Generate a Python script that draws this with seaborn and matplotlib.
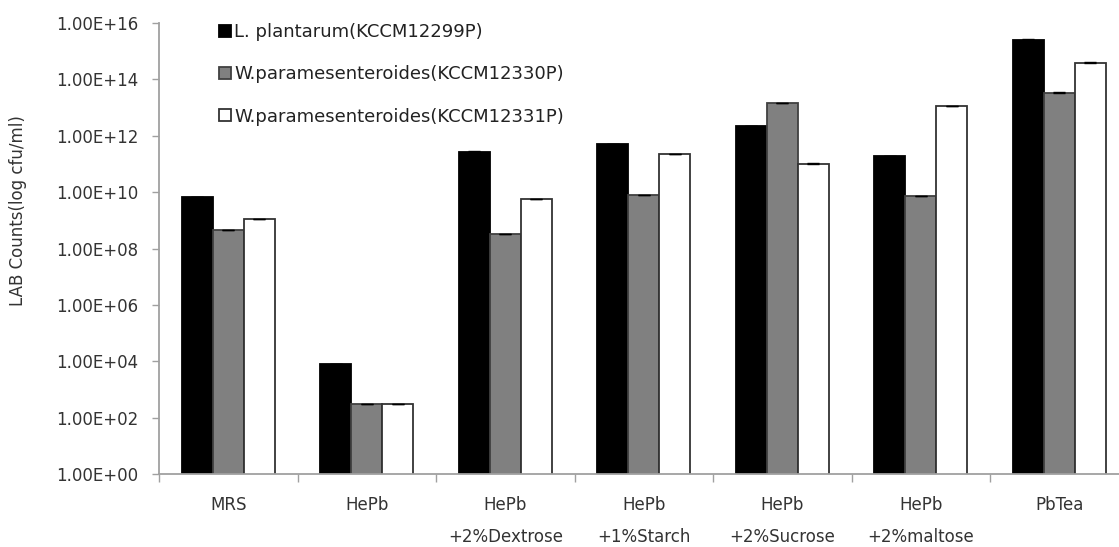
import numpy as np
import pandas as pd
import matplotlib
matplotlib.use("Agg")
import matplotlib.pyplot as plt
import seaborn as sns
from matplotlib.patches import Patch

# ---- data ----
categories = ["MRS", "HePb", "HePb\n+2%Dextrose", "HePb\n+1%Starch",
              "HePb\n+2%Sucrose", "HePb\n+2%maltose", "PbTea"]
strains = ["L. plantarum(KCCM12299P)",
           "W.paramesenteroides(KCCM12330P)",
           "W.paramesenteroides(KCCM12331P)"]
lp_vals = [6.5e9, 7.8e3, 2.7e11, 5.0e11, 2.2e12, 1.9e11, 2.5e15]
w30_vals = [4.5e8, 3.0e2, 3.2e8, 7.8e9, 1.4e13, 7.2e9, 3.3e13]
w31_vals = [1.1e9, 3.0e2, 5.6e9, 2.2e11, 1.0e11, 1.1e13, 3.9e14]
lp_err = [3e8, 4e2, 1.2e10, 2e10, 1e11, 8e9, 1e14]
w30_err = [2e7, 1.5e1, 1.5e7, 3e8, 6e11, 3e8, 1.5e12]
w31_err = [5e7, 1.5e1, 2.5e8, 1e10, 5e9, 5e11, 2e13]
ytick_vals = [1e0, 1e2, 1e4, 1e6, 1e8, 1e10, 1e12, 1e14, 1e16]
ytick_labels = ["1.00E+00", "1.00E+02", "1.00E+04", "1.00E+06", "1.00E+08",
                "1.00E+10", "1.00E+12", "1.00E+14", "1.00E+16"]
ylabel = "LAB Counts(log cfu/ml)"

series_vals = [lp_vals, w30_vals, w31_vals]
series_err = [lp_err, w30_err, w31_err]
fills = ["#000000", "#808080", "#ffffff"]
edges = ["#000000", "#404040", "#333333"]

rows = []
for s, vals in zip(strains, series_vals):
    for c, v in zip(categories, vals):
        rows.append({"medium": c, "strain": s, "count": v})
df = pd.DataFrame(rows)

sns.set_theme(style="white")
plt.rcParams["font.family"] = ["DejaVu Sans"]

fig = plt.figure(figsize=(11.19, 5.47), dpi=100)
ax = fig.add_axes([159 / 1119, (547 - 474) / 547, 969.5 / 1119, 451 / 547])

sns.barplot(data=df, x="medium", y="count", hue="strain", order=categories,
            hue_order=strains, palette=fills, width=0.675, errorbar=None,
            log_scale=(False, True), ax=ax, legend=False, saturation=1)

for cont, ec, errs in zip(ax.containers, edges, series_err):
    xs, ys = [], []
    for p in cont.patches:
        p.set_edgecolor(ec)
        p.set_linewidth(1.3)
        xs.append(p.get_x() + p.get_width() / 2)
        ys.append(p.get_height() + p.get_y())
    ax.errorbar(xs, ys, yerr=[np.zeros(len(errs)), errs], fmt="none",
                ecolor="#000000", elinewidth=1, capsize=4, capthick=1)

ax.set_yscale("log")
ax.set_ylim(1, 1e16)
ax.set_xlim(-0.5, 6.5)
ax.set_yticks(ytick_vals)
ax.set_yticklabels(ytick_labels)
ax.yaxis.set_minor_locator(matplotlib.ticker.NullLocator())
ax.tick_params(axis="y", which="major", length=5, width=1, color="#a0a0a0",
               labelsize=12, labelcolor="#333333", pad=10, left=True)

ax.set_xticks(range(len(categories)))
ax.set_xticklabels(categories, linespacing=2.0, va="top")
ax.tick_params(axis="x", which="major", length=0, labelsize=12,
               labelcolor="#333333", pad=16)
ax.set_xticks(np.arange(-0.5, 7.0, 1.0), minor=True)
ax.tick_params(axis="x", which="minor", length=6, width=1, color="#a0a0a0",
               bottom=True)

ax.set_xlabel("")
ax.set_ylabel(ylabel, fontsize=12, color="#333333")
ax.yaxis.set_label_coords(-0.136, 0.585)

for side in ["top", "right"]:
    ax.spines[side].set_visible(False)
for side in ["left", "bottom"]:
    ax.spines[side].set_color("#a0a0a0")
    ax.spines[side].set_linewidth(1.3)

handles = [Patch(facecolor=f, edgecolor=e, linewidth=1.3) for f, e in zip(fills, edges)]
fig.legend(handles, strains, loc="upper left", bbox_to_anchor=(219 / 1119, 1 - 23 / 547),
           frameon=False, fontsize=13, handlelength=0.65, handleheight=0.65,
           handletextpad=0.2, labelspacing=1.35, borderpad=0, borderaxespad=0,
           labelcolor="#222222")

fig.savefig("out.png", dpi=100)
